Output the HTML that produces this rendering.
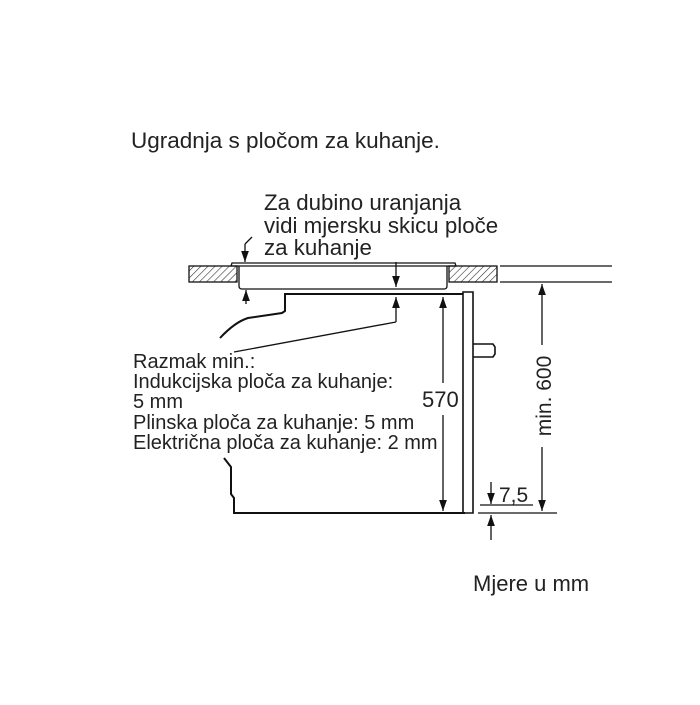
<!DOCTYPE html>
<html><head><style>
body{margin:0;background:#fff}
svg text{font-family:"Liberation Sans",sans-serif;fill:#222}
</style></head><body>
<svg width="700" height="700" viewBox="0 0 700 700" xmlns="http://www.w3.org/2000/svg">
<defs>
<pattern id="h" width="5" height="5" patternUnits="userSpaceOnUse" patternTransform="rotate(45)">
<line x1="0" y1="0" x2="0" y2="5" stroke="#333" stroke-width="1.2"/></pattern>
<marker id="a" viewBox="0 0 10 10" refX="10" refY="5" markerWidth="11" markerHeight="11" orient="auto-start-reverse" markerUnits="userSpaceOnUse"><path d="M0,1.5L10,5L0,8.5z" fill="#111"/></marker>
</defs>
<text x="131" y="148" font-size="22.5">Ugradnja s pločom za kuhanje.</text>
<text x="264" y="210" font-size="22.3">Za dubino uranjanja</text>
<text x="264" y="233" font-size="22.3">vidi mjersku skicu ploče</text>
<text x="264" y="255" font-size="22.3">za kuhanje</text>
<g stroke="#111" fill="none" stroke-width="1.3">
<rect x="189" y="266" width="48" height="16" fill="url(#h)"/>
<rect x="449" y="266" width="48" height="16" fill="url(#h)"/>
<line x1="500" y1="266" x2="612" y2="266"/><line x1="500" y1="282" x2="612" y2="282"/>
<path d="M231,266 L232,263 L455,263 L456,266 Z"/>
<path d="M239,266 L239,286 Q239,289 242,289 L444,289 Q447,289 447,286 L447,266"/>
<path d="M463,294 L285,294 L285,311 L282,313 L248,318 Q235,322 220,338" stroke-width="2"/>
<path d="M463,292 L473,292 L473,513 L463,513 Z" stroke-width="1.6"/>
<path d="M473,344 L493,344 L495,347 L495,354 L493,357 L473,357" stroke-width="1.6"/>
<path d="M224,458 L231,467 L231,494 L234,498 L234,513 L465,513" stroke-width="2"/>
<line x1="245" y1="244" x2="245" y2="262" marker-end="url(#a)"/>
<line x1="245" y1="244" x2="252" y2="237"/>
<line x1="246" y1="304" x2="246" y2="290" marker-end="url(#a)"/>
<line x1="396" y1="262" x2="396" y2="287" marker-end="url(#a)"/>
<line x1="396" y1="322" x2="396" y2="297" marker-end="url(#a)"/>
<line x1="396" y1="322" x2="234" y2="352"/>
<line x1="443" y1="383" x2="443" y2="297" marker-end="url(#a)"/>
<line x1="443" y1="415" x2="443" y2="511" marker-end="url(#a)"/>
<line x1="542" y1="345" x2="542" y2="284" marker-end="url(#a)"/>
<line x1="542" y1="447" x2="542" y2="511" marker-end="url(#a)"/>
<line x1="478" y1="513" x2="557" y2="513"/>
<line x1="480" y1="505" x2="533" y2="505"/>
<line x1="491" y1="482" x2="491" y2="504" marker-end="url(#a)"/>
<line x1="491" y1="540" x2="491" y2="515" marker-end="url(#a)"/>
</g>
<text x="422" y="407" font-size="22">570</text>
<text x="499" y="502" font-size="21">7,5</text>
<text transform="translate(551,396) rotate(-90)" text-anchor="middle" font-size="21">min. 600</text>
<text x="133" y="368" font-size="20">Razmak min.:</text>
<text x="133" y="388" font-size="20">Indukcijska ploča za kuhanje:</text>
<text x="133" y="408" font-size="20">5 mm</text>
<text x="133" y="429" font-size="20">Plinska ploča za kuhanje: 5 mm</text>
<text x="133" y="449" font-size="20">Električna ploča za kuhanje: 2 mm</text>
<text x="473" y="591" font-size="22">Mjere u mm</text>
</svg>
</body></html>
